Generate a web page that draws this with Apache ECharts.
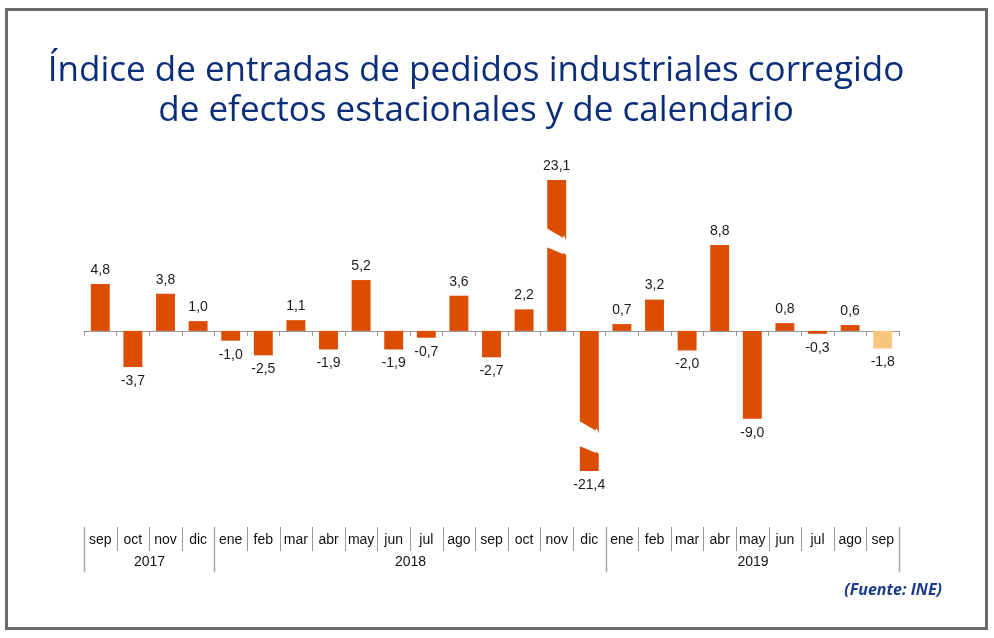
<!DOCTYPE html>
<html>
<head>
<meta charset="utf-8">
<script src="https://cdn.jsdelivr.net/npm/echarts@6/dist/echarts.min.js"></script>
<style>html,body{margin:0;padding:0;background:#fff}#c{width:994px;height:638px}</style>
</head>
<body>
<div id="c"></div>
<script>
const titleLines = ['Índice de entradas de pedidos industriales corregido', 'de efectos estacionales y de calendario'];
const sourceText = '(Fuente: INE)';
const months = ['sep','oct','nov','dic','ene','feb','mar','abr','may','jun','jul','ago','sep','oct','nov','dic','ene','feb','mar','abr','may','jun','jul','ago','sep'];
const values = [4.8,-3.7,3.8,1.0,-1.0,-2.5,1.1,-1.9,5.2,-1.9,-0.7,3.6,-2.7,2.2,23.1,-21.4,0.7,3.2,-2.0,8.8,-9.0,0.8,-0.3,0.6,-1.8];
const provisional = [false,false,false,false,false,false,false,false,false,false,false,false,false,false,false,false,false,false,false,false,false,false,false,false,true];
const years = ['2017','2018','2019'];
const yearStart = [0,4,16];
const yearEnd = [4,16,25];
const breakRanges = [[-18.5,-9.2],[8.9,18.2]];

const MAIN = '#db4d00', LIGHT = '#f8c67f', NAVY = '#0b2e7a';
const BAR_RATIO = 0.58;
const idx = months.map((m,i)=>i);
const fmt = v => v.toFixed(1).replace('.', ',');

// bars that cross each axis break
const cutData = [];
values.forEach((v,i)=>{
  breakRanges.forEach(br=>{
    if ((v > 0 && br[0] >= 0 && v >= br[1]) || (v < 0 && br[1] <= 0 && v <= br[0])) cutData.push([i, br[0], br[1]]);
  });
});

const chart = echarts.init(document.getElementById('c'), null, {renderer:'canvas'});
chart.setOption({
  animation: false,
  backgroundColor: '#fff',
  graphic: [
    {type:'rect', shape:{x:6.5,y:9.5,width:980,height:619}, style:{fill:'none', stroke:'#6a6a6a', lineWidth:3}, z:-1},
    {type:'text', x:476, y:71, style:{text:titleLines[0], align:'center', verticalAlign:'middle', font:'35px "Open Sans", sans-serif', fill:NAVY}},
    {type:'text', x:476, y:111, style:{text:titleLines[1], align:'center', verticalAlign:'middle', font:'35px "Open Sans", sans-serif', fill:NAVY}},
    {type:'text', x:942, y:590, style:{text:sourceText, align:'right', verticalAlign:'middle', font:'italic bold 16px "Open Sans", sans-serif', fill:'#1a3a8c'}}
  ],
  grid: [
    {left:84, right:95, top:180, bottom:638-471},
    {left:84, right:95, top:527, bottom:638-572}
  ],
  xAxis: [
    {gridIndex:0, type:'category', data:idx, boundaryGap:true,
     axisLine:{show:true, onZero:true, lineStyle:{color:'#999', width:1}},
     axisTick:{show:true, length:5, inside:false, lineStyle:{color:'#999'}},
     axisLabel:{show:false}, splitLine:{show:false}},
    {gridIndex:1, type:'category', data:idx, boundaryGap:true, show:false}
  ],
  yAxis: [
    {gridIndex:0, type:'value', min: v => v.min, max: v => v.max,
     axisLine:{show:false}, axisTick:{show:false}, axisLabel:{show:false}, splitLine:{show:false},
     breaks: breakRanges.map((r,k)=>({start:r[0], end:r[1], gap: k===0 ? '7.5%' : '5.5%'})),
     breakArea: {show:false}
    },
    {gridIndex:1, type:'value', min:0, max:2, show:false}
  ],
  series: [
    {type:'bar', xAxisIndex:0, yAxisIndex:0, barWidth:(BAR_RATIO*100)+'%', z:2,
     data: values.map((v,i)=>({value:v, itemStyle:{color: provisional[i] ? LIGHT : MAIN},
        label:{position: v>=0 ? 'top' : 'bottom'}})),
     label:{show:true, distance:7, color:'#1a1a1a', fontSize:14, fontFamily:'"Liberation Sans", Arial, sans-serif',
        formatter: p => fmt(values[p.dataIndex])}
    },
    {type:'custom', xAxisIndex:0, yAxisIndex:0, clip:false, z:3, silent:true,
     data: cutData,
     renderItem: (params, api) => {
       const i = api.value(0), lo = api.value(1), hi = api.value(2);
       const c = api.coord([i, lo]);
       const yL = c[1];                 // screen y of the lower-value edge
       const yU = api.coord([i, hi])[1];// screen y of the higher-value edge
       const top = Math.min(yL, yU), bot = Math.max(yL, yU);
       const w = api.size([1,0])[0] * BAR_RATIO;
       const xl = c[0] - w/2 - 1, xr = c[0] + w/2 + 1;
       const xm = xl + (xr - xl) * 0.8;
       const s = 13;
       const pts = [
         [xl, top], [xm, top + s*0.75], [xm + 1, top + s*0.55], [xr, top + s + 2],
         [xr, bot + 12], [xm + 1, bot + 9], [xm, bot + 10], [xl, bot + 3]
       ];
       return {type:'polygon', shape:{points:pts}, style:{fill:'#fff', stroke:null}};
     }
    },
    {type:'custom', xAxisIndex:1, yAxisIndex:1, clip:false,
     data: idx.map(i=>[i]),
     renderItem: (params, api) => {
       const i = api.value(0);
       const c = api.coord([i, 1.4]);
       const w = api.size([1,0])[0];
       const top = api.coord([i, 2])[1];
       const mid = api.coord([i, 0.93])[1];
       const x0 = Math.round(c[0] - w/2) + 0.5;
       const ch = [
         {type:'line', shape:{x1:x0, y1:top, x2:x0, y2:mid}, style:{stroke:'#9a9a9a', lineWidth:1}},
         {type:'text', style:{text:months[i], x:c[0], y:c[1], align:'center', verticalAlign:'middle',
            font:'14px "Liberation Sans", Arial, sans-serif', fill:'#111'}}
       ];
       if (i === months.length - 1) {
         const x1 = Math.round(c[0] + w/2) + 0.5;
         ch.push({type:'line', shape:{x1:x1, y1:top, x2:x1, y2:mid}, style:{stroke:'#9a9a9a', lineWidth:1}});
       }
       return {type:'group', children:ch};
     }
    },
    {type:'custom', xAxisIndex:1, yAxisIndex:1, clip:false,
     data: years.map((y,k)=>[yearStart[k], yearEnd[k], k]),
     renderItem: (params, api) => {
       const s = api.value(0), e = api.value(1), k = api.value(2);
       const w = api.size([1,0])[0];
       const cs = api.coord([s, 2]);
       const ce = api.coord([e-1, 0]);
       const xl = Math.round(cs[0] - w/2) + 0.5;
       const xr = Math.round(ce[0] + w/2) + 0.5;
       const ty = api.coord([s, 0.45])[1];
       const ch = [
         {type:'line', shape:{x1:xl, y1:cs[1], x2:xl, y2:ce[1]}, style:{stroke:'#a8a8a8', lineWidth:1.5}},
         {type:'text', style:{text:years[k], x:(xl+xr)/2, y:ty, align:'center', verticalAlign:'middle',
            font:'14px "Liberation Sans", Arial, sans-serif', fill:'#111'}}
       ];
       if (k === years.length - 1) {
         ch.push({type:'line', shape:{x1:xr, y1:cs[1], x2:xr, y2:ce[1]}, style:{stroke:'#a8a8a8', lineWidth:1.5}});
       }
       return {type:'group', children:ch};
     }
    }
  ]
});
</script>
</body>
</html>
